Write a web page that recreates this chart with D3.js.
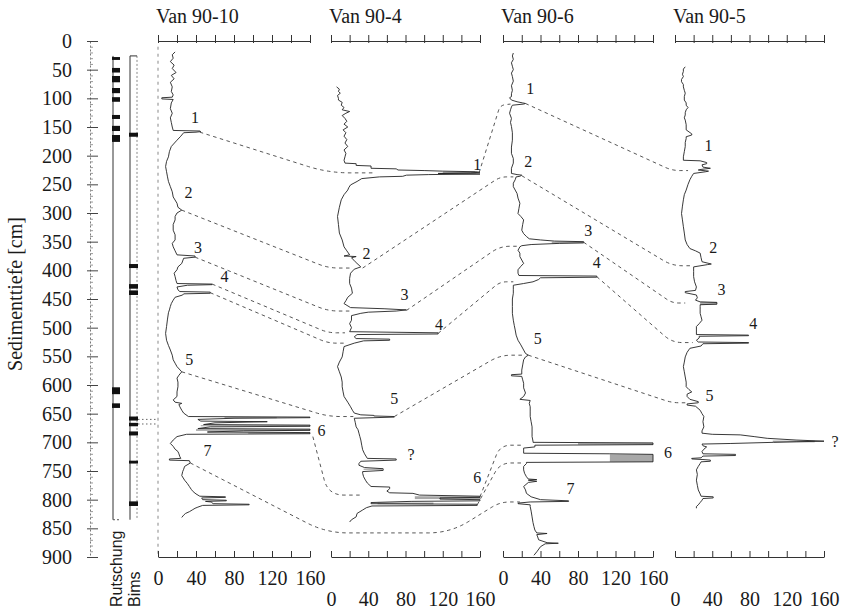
<!DOCTYPE html>
<html><head><meta charset="utf-8">
<script src="https://cdn.jsdelivr.net/npm/d3@7"></script>
<style>body{margin:0;background:#fff}svg{display:block}</style>
</head><body>
<svg id="c" width="851" height="609"></svg>
<script>
// ---------------- data ----------------
const cores = ["Van 90-10", "Van 90-4", "Van 90-6", "Van 90-5"];
const depthTicks = d3.range(0, 901, 50);
const depthMinor = d3.range(0, 901, 10).filter(d => d % 50 !== 0);
const valueTicks = [0, 20, 40, 60, 80, 100, 120, 140, 160];
const valueLabels = [0, 40, 80, 120, 160];

// [depth cm, value]
const van9010 = [[19,18],[24,15],[30,16],[36,13],[42,17],[48,15],[55,19],[60,14],[66,17],[72,13],[80,15],[88,14],[94,16],[98,15],[99,4],[101,4],[102,16],[108,14],[118,13],[126,15],[134,13],[142,14],[150,15],[156,16],[157,44],[158,45],[159,40],[160,27],[166,24],[173,20],[184,14],[193,12],[202,11],[210,9],[219,8],[228,9],[237,10],[245,11],[254,13],[263,15],[272,16],[283,20],[290,21],[295,25],[300,20],[306,18],[312,18],[320,16],[330,16],[338,18],[347,18],[353,15],[359,16],[366,18],[373,20],[375,39],[377,39],[379,27],[388,25],[394,21],[399,20],[405,17],[411,18],[418,19],[423,20],[424,57],[425,57],[426,31],[429,20],[434,21],[437,23],[438,55],[440,55],[441,27],[443,26],[447,18],[452,16],[458,14],[463,13],[469,12],[474,11],[485,10],[498,9],[510,8],[522,9],[531,11],[539,13],[548,15],[556,16],[562,18],[568,20],[577,25],[583,22],[588,20],[595,21],[603,21],[612,20],[620,20],[626,16],[630,18],[632,25],[634,22],[638,23],[644,25],[649,27],[655,32],[656,160],[657,160],[658,80],[660,42],[663,45],[664,115],[666,60],[669,48],[670,160],[672,160],[673,55],[676,42],[677,160],[679,160],[680,90],[682,52],[683,160],[685,160],[686,30],[690,20],[696,16],[702,13],[707,16],[712,18],[716,21],[720,22],[725,23],[728,24],[729,12],[731,12],[732,33],[736,34],[742,28],[747,27],[751,26],[758,25],[766,28],[772,31],[777,33],[782,35],[786,37],[790,40],[794,44],[795,71],[796,71],[797,46],[800,47],[801,72],[802,72],[803,50],[804,56],[807,58],[808,96],[809,96],[810,47],[813,42],[815,39],[818,36],[821,33],[824,29],[827,27],[831,25]];

const van904 = [[80,6],[84,9],[88,8],[91,10],[95,7],[100,8],[103,8],[107,12],[112,11],[116,14],[120,12],[123,20],[126,16],[130,12],[135,15],[140,17],[145,14],[150,18],[155,13],[160,16],[166,14],[172,17],[178,15],[184,18],[190,14],[196,16],[202,15],[208,14],[213,15],[214,27],[217,27],[218,43],[222,43],[223,70],[225,72],[226,100],[227,120],[228,155],[229,160],[230,150],[231,115],[232,160],[233,105],[234,81],[236,77],[237,52],[240,33],[245,28],[251,21],[256,19],[260,18],[268,14],[277,11],[290,9],[306,7],[320,8],[335,9],[347,12],[359,14],[366,17],[373,20],[375,14],[376,27],[378,22],[385,26],[394,32],[398,25],[405,21],[414,20],[423,20],[431,22],[440,23],[447,18],[453,16],[458,14],[465,21],[467,57],[469,81],[471,70],[473,40],[475,32],[479,22],[487,22],[493,20],[500,22],[507,20],[509,115],[511,115],[512,28],[516,25],[519,27],[520,63],[522,63],[523,35],[527,25],[533,14],[542,13],[551,12],[560,9],[568,7],[577,9],[586,11],[595,12],[603,12],[612,13],[620,14],[630,18],[638,21],[644,23],[649,25],[652,32],[653,46],[654,46],[655,68],[656,68],[658,25],[665,26],[673,27],[678,29],[684,30],[690,31],[696,32],[705,33],[713,34],[720,36],[728,39],[729,70],[731,70],[733,32],[737,30],[740,30],[744,36],[746,56],[749,56],[751,34],[754,34],[760,35],[766,37],[771,39],[777,43],[778,63],[781,63],[785,60],[788,63],[789,88],[792,95],[794,160],[796,160],[797,117],[799,117],[800,160],[802,160],[803,86],[805,43],[807,43],[808,157],[810,157],[811,44],[814,38],[818,34],[824,28],[830,27],[835,22],[839,20]];

const van906 = [[21,11],[26,10],[32,11],[38,9],[44,10],[50,11],[56,9],[62,10],[70,11],[78,9],[86,10],[92,9],[97,9],[99,7],[103,9],[106,15],[108,21],[109,24],[110,22],[112,10],[115,9],[120,8],[126,7],[135,9],[142,8],[149,9],[160,10],[173,10],[185,9],[196,9],[205,11],[213,11],[222,9],[231,9],[233,15],[234,20],[236,18],[237,14],[242,13],[248,11],[254,11],[260,13],[266,15],[274,16],[283,18],[292,17],[301,16],[306,19],[312,22],[320,21],[330,20],[336,22],[341,25],[345,28],[347,40],[349,55],[350,86],[352,86],[353,60],[355,30],[357,20],[359,18],[365,16],[370,18],[376,18],[382,20],[388,22],[393,19],[399,16],[405,16],[409,17],[410,100],[412,100],[413,40],[416,38],[420,32],[423,22],[426,11],[433,11],[440,11],[450,10],[463,10],[475,10],[487,11],[496,12],[504,13],[513,14],[522,16],[530,19],[539,22],[545,24],[548,27],[551,24],[556,22],[565,21],[574,20],[581,20],[582,9],[584,9],[585,20],[591,21],[597,22],[605,22],[614,24],[620,22],[625,18],[627,29],[632,28],[638,29],[647,29],[655,29],[664,30],[673,31],[682,31],[690,31],[698,32],[700,32],[701,160],[704,160],[705,34],[708,34],[710,22],[715,22],[719,22],[720,114],[721,160],[734,160],[735,25],[737,25],[742,22],[748,22],[754,23],[760,25],[764,27],[765,36],[766,27],[768,36],[770,27],[777,22],[783,24],[789,25],[795,30],[800,40],[802,70],[803,70],[804,29],[806,16],[807,16],[809,29],[812,29],[820,30],[830,31],[840,32],[847,33],[853,34],[858,36],[859,47],[861,36],[865,37],[870,38],[875,47],[876,59],[877,45],[882,40],[891,36],[897,33]];

const van905 = [[45,11],[49,9],[53,9],[58,8],[62,9],[67,7],[71,7],[76,9],[80,9],[86,10],[91,11],[97,10],[103,10],[108,12],[112,12],[116,14],[120,12],[125,11],[129,11],[134,10],[138,11],[146,12],[155,12],[162,18],[164,18],[167,12],[170,12],[177,11],[184,11],[193,10],[202,9],[208,9],[209,27],[212,34],[214,34],[216,29],[220,30],[222,38],[224,28],[225,25],[227,36],[228,33],[231,20],[236,18],[242,16],[250,14],[260,12],[268,10],[277,9],[288,8],[301,7],[312,8],[324,9],[335,10],[347,11],[355,13],[362,16],[366,22],[370,27],[378,28],[385,29],[389,39],[390,35],[394,20],[402,20],[411,20],[420,21],[429,23],[435,22],[437,11],[439,11],[443,23],[448,24],[452,22],[455,27],[456,45],[459,45],[460,27],[463,27],[469,27],[475,27],[481,28],[487,29],[493,26],[498,23],[504,23],[512,23],[513,79],[514,79],[515,26],[518,26],[522,23],[525,25],[526,79],[527,79],[528,30],[532,28],[536,16],[543,13],[551,11],[560,10],[568,9],[577,10],[586,11],[595,12],[603,12],[608,15],[612,18],[616,13],[620,13],[625,16],[629,25],[631,25],[633,13],[635,13],[637,22],[644,27],[650,29],[655,31],[664,30],[673,31],[680,29],[684,29],[686,40],[687,70],[690,85],[693,99],[696,130],[698,160],[699,130],[700,106],[702,60],[703,29],[706,30],[708,34],[712,31],[716,29],[720,30],[721,65],[723,65],[724,30],[727,28],[728,18],[729,18],[730,30],[731,38],[733,38],[734,28],[737,27],[742,25],[748,23],[756,24],[766,23],[775,24],[783,25],[790,27],[794,28],[795,41],[797,41],[798,30],[801,29],[805,27],[809,25],[812,23],[815,23]];

const profiles = [van9010, van904, van906, van905];

// grey shaded spikes: [core, depthTop, depthBottom, valueFrom, valueTo]
const greyBands = [[0,656,658,70,125],[0,670,672,45,160],[0,677,680,40,160],[0,683,685,95,160],
  [1,228,231,120,156],[1,794,799,90,160],[1,805,808,50,110],[1,746,748,35,55],
  [2,350,353,52,86],[2,701,704,80,160],[2,721,734,114,160],
  [3,455,460,27,45],[3,697,700,105,150]];

// Rutschung (slump) and Bims (pumice) intervals [top, bottom] in cm
const rutschung = [[28,33],[47,55],[61,72],[82,91],[98,106],[129,136],[148,157],[164,176],[604,616],[632,640]];
const bims = [[160,167],[389,396],[424,432],[435,443],[655,662],[666,672],[681,688],[732,737],[803,811]];
const columnRange = [26, 835];
const bimsLinks = [660, 668];

// correlation lines: waypoints [core, value, depth]
const corrLines = [
  [[0,44,159],[1,-3,230],[1,45,230]],
  [[1,159,230],[2,-3,112],[2,8,110]],
  [[2,24,109],[3,-3,226],[3,14,226]],
  [[0,25,295],[1,-3,396],[1,20,396]],
  [[1,34,396],[2,-3,237],[2,11,237]],
  [[2,20,235],[3,-3,392],[3,19,392]],
  [[0,39,377],[1,-3,471],[1,20,471]],
  [[1,81,470],[2,-3,358],[2,18,358]],
  [[2,86,351],[3,-3,457],[3,11,457]],
  [[0,57,424],[1,-3,509],[1,15,509]],
  [[0,55,439],[1,-3,527],[1,15,527]],
  [[1,115,510],[2,-3,420],[2,11,420]],
  [[2,100,411],[3,-3,526],[3,19,526]],
  [[0,25,577],[1,-3,655],[1,24,655]],
  [[1,68,655],[2,-3,548],[2,21,548]],
  [[2,27,548],[3,-3,631],[3,13,631]],
  [[0,163,690],[1,-3,792],[1,31,792]],
  [[1,160,795],[2,-3,705],[2,20,705]],
  [[1,157,809],[2,-3,736],[2,20,736]],
  [[0,34,736],[1,-5,858],[1,128,858],[2,-3,804],[2,18,804]]
];

// event labels: [core, value, depth, text]
const eventLabels = [
  [0,39,133,"1"],[0,32,265,"2"],[0,42,360,"3"],[0,70,410,"4"],[0,33,555,"5"],[0,172,680,"6"],[0,52,715,"7"],
  [1,157,215,"1"],[1,38,370,"2"],[1,79,443,"3"],[1,116,495,"4"],[1,68,623,"5"],[1,86,722,"?"],[1,157,762,"6"],
  [2,29,82,"1"],[2,27,211,"2"],[2,91,330,"3"],[2,100,387,"4"],[2,37,519,"5"],[2,176,718,"6"],[2,72,780,"7"],
  [3,36,183,"1"],[3,41,361,"2"],[3,50,434,"3"],[3,84,492,"4"],[3,37,618,"5"],[3,172,699,"?"]
];

// ---------------- drawing ----------------
const svg = d3.select("#c");
const serif = "'Liberation Serif', 'Times New Roman', serif";
const sans = "'Liberation Sans', Arial, sans-serif";
const ink = "#1a1a1a";

const y = d3.scaleLinear().domain([0, 900]).range([41, 557]);
const panelRanges = [[158, 310], [331, 480], [503, 653], [675, 824]];
const xs = panelRanges.map(r => d3.scaleLinear().domain([0, 160]).range(r));
const labelRowTop = [571, 592, 571, 592];

// left depth axis
const gL = svg.append("g").attr("transform", "translate(90,0)");
gL.call(d3.axisLeft(y).tickValues(depthTicks).tickSizeInner(-8).tickSizeOuter(0).tickPadding(18).tickFormat(d3.format("d")));
gL.select(".domain").attr("stroke", "#777").attr("stroke-dasharray", "2,2");
gL.selectAll(".tick line").attr("stroke", "#444").attr("x1", -3);
gL.selectAll("text").attr("font-family", serif).attr("font-size", 20).attr("fill", ink);
const gLm = svg.append("g").attr("transform", "translate(90,0)");
gLm.call(d3.axisLeft(y).tickValues(depthMinor).tickSizeInner(-3).tickSizeOuter(0).tickFormat(""));
gLm.select(".domain").remove();
gLm.selectAll(".tick line").attr("stroke", "#999");

svg.append("text")
  .attr("transform", "translate(22,294) rotate(-90)")
  .attr("text-anchor", "middle").attr("font-family", serif).attr("font-size", 20).attr("fill", ink)
  .text("Sedimenttiefe [cm]");

// Rutschung column
svg.append("line").attr("x1", 113).attr("x2", 113).attr("y1", y(columnRange[0])).attr("y2", y(columnRange[1]))
  .attr("stroke", "#333").attr("stroke-width", 1);
svg.append("line").attr("x1", 113).attr("x2", 119).attr("y1", y(columnRange[1])).attr("y2", y(columnRange[1]))
  .attr("stroke", "#555").attr("stroke-dasharray", "2,2");
svg.selectAll("rect.rut").data(rutschung).join("rect").attr("class", "rut")
  .attr("x", 112).attr("width", 8)
  .attr("y", d => y(d[0])).attr("height", d => y(d[1]) - y(d[0]))
  .attr("fill", "#111");

// Bims column
svg.append("line").attr("x1", 130).attr("x2", 130).attr("y1", y(columnRange[0])).attr("y2", y(columnRange[1])).attr("stroke", "#333");
svg.append("line").attr("x1", 137).attr("x2", 137).attr("y1", y(columnRange[0])).attr("y2", y(columnRange[1])).attr("stroke", "#888").attr("stroke-dasharray", "2,2");
svg.append("line").attr("x1", 130).attr("x2", 137).attr("y1", y(columnRange[0])).attr("y2", y(columnRange[0])).attr("stroke", "#333");
svg.selectAll("rect.bims").data(bims).join("rect").attr("class", "bims")
  .attr("x", 129).attr("width", 9)
  .attr("y", d => y(d[0])).attr("height", d => y(d[1]) - y(d[0]))
  .attr("fill", "#111");
svg.selectAll("line.blink").data(bimsLinks).join("line").attr("class", "blink")
  .attr("x1", 138).attr("x2", xs[0](-1)).attr("y1", d => y(d)).attr("y2", d => y(d))
  .attr("stroke", "#666").attr("stroke-dasharray", "1.5,2.5");

svg.append("text").attr("transform", "translate(122,607) rotate(-90)")
  .attr("font-family", sans).attr("font-size", 16).attr("fill", ink).text("Rutschung");
svg.append("text").attr("transform", "translate(140,607) rotate(-90)")
  .attr("font-family", sans).attr("font-size", 16).attr("fill", ink).text("Bims");

// dashed zero line in first panel
svg.append("line").attr("x1", xs[0](0)).attr("x2", xs[0](0)).attr("y1", y(10)).attr("y2", y(895))
  .attr("stroke", "#888").attr("stroke-dasharray", "3,4");

// panels
cores.forEach((name, i) => {
  const x = xs[i];
  svg.append("text").attr("x", x.range()[0] - 2).attr("y", 23)
    .attr("font-family", serif).attr("font-size", 20).attr("fill", ink).text(name);

  const top = svg.append("g").attr("transform", `translate(0,${y(0)})`);
  top.call(d3.axisTop(x).tickValues(valueTicks).tickSizeInner(6).tickSizeOuter(0).tickFormat(""));
  const top2 = svg.append("g").attr("transform", `translate(0,${y(0)})`);
  top2.call(d3.axisBottom(x).tickValues(valueTicks).tickSizeInner(2).tickSizeOuter(0).tickFormat(""));
  top2.select(".domain").remove();

  const bot = svg.append("g").attr("transform", `translate(0,${y(900)})`);
  bot.call(d3.axisTop(x).tickValues(valueTicks).tickSizeInner(6).tickSizeOuter(0).tickFormat(""));

  const lab = svg.append("g").attr("transform", `translate(0,${labelRowTop[i]})`);
  lab.call(d3.axisBottom(x).tickValues(valueLabels).tickSize(0).tickPadding(0).tickFormat(d3.format("d")));
  lab.select(".domain").remove();
  lab.selectAll("text").attr("font-family", serif).attr("font-size", 20).attr("fill", ink);

  [top, top2, bot].forEach(g => {
    g.selectAll("line,path").attr("stroke", "#333").attr("stroke-width", 1);
  });
});

// grey bands
svg.selectAll("rect.grey").data(greyBands).join("rect").attr("class", "grey")
  .attr("x", d => xs[d[0]](d[3]))
  .attr("width", d => xs[d[0]](d[4]) - xs[d[0]](d[3]))
  .attr("y", d => y(d[1]))
  .attr("height", d => y(d[2]) - y(d[1]))
  .attr("fill", "#a8a8a8");

// profiles
profiles.forEach((p, i) => {
  const line = d3.line().x(d => xs[i](d[1])).y(d => y(d[0]));
  svg.append("path").datum(p).attr("d", line)
    .attr("fill", "none").attr("stroke", "#222").attr("stroke-width", 0.9)
    .attr("stroke-linejoin", "round");
});

// correlation lines: straight segments with rounded bends at the waypoints
function roundedPath(wp, rmax) {
  const pts = wp.map(d => [xs[d[0]](d[1]), y(d[2])]);
  const p = d3.path();
  p.moveTo(pts[0][0], pts[0][1]);
  for (let k = 1; k < pts.length - 1; k++) {
    const [ax, ay] = pts[k - 1], [bx, by] = pts[k], [cx, cy] = pts[k + 1];
    const l1 = Math.hypot(bx - ax, by - ay), l2 = Math.hypot(cx - bx, cy - by);
    const r = Math.min(rmax, l1 / 2, l2 / 2);
    p.lineTo(bx - (bx - ax) / l1 * r, by - (by - ay) / l1 * r);
    p.quadraticCurveTo(bx, by, bx + (cx - bx) / l2 * r, by + (cy - by) / l2 * r);
  }
  const last = pts[pts.length - 1];
  p.lineTo(last[0], last[1]);
  return p.toString();
}
svg.selectAll("path.corr").data(corrLines).join("path").attr("class", "corr")
  .attr("d", d => roundedPath(d, 22)).attr("fill", "none")
  .attr("stroke", "#444").attr("stroke-width", 0.9).attr("stroke-dasharray", "3.5,3.5");

// event labels
svg.selectAll("text.ev").data(eventLabels).join("text").attr("class", "ev")
  .attr("x", d => xs[d[0]](d[1])).attr("y", d => y(d[2]))
  .attr("text-anchor", "middle").attr("dominant-baseline", "central")
  .attr("font-family", serif).attr("font-size", 16).attr("fill", ink)
  .text(d => d[3]);
</script>
</body></html>
